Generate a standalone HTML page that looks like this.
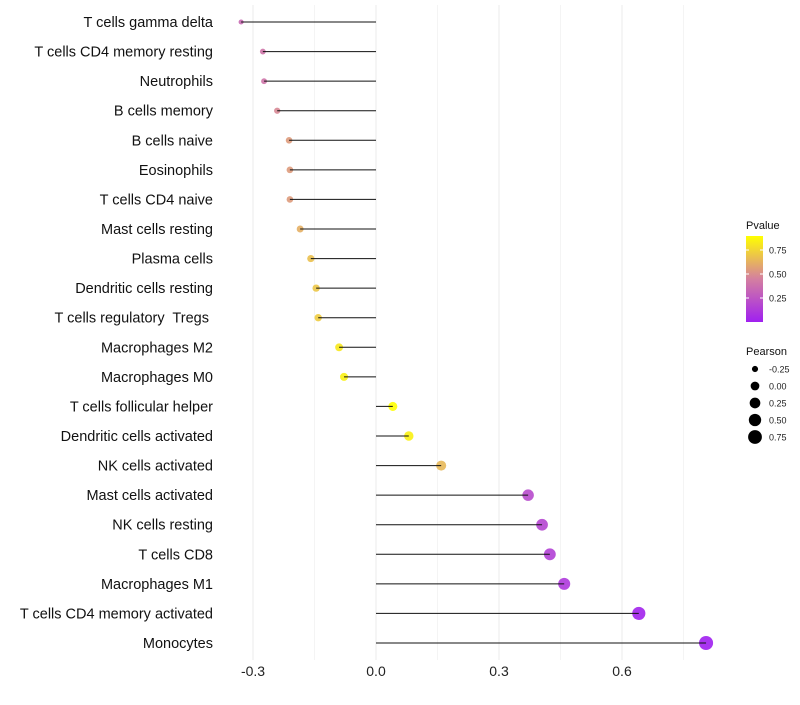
<!DOCTYPE html>
<html><head><meta charset="utf-8"><style>
body{margin:0;background:#fff}
svg text{font-family:"Liberation Sans",sans-serif;white-space:pre}
</style></head><body>
<svg id="c" width="800" height="700"></svg>
<script>
const categories=["T cells gamma delta","T cells CD4 memory resting","Neutrophils","B cells memory","B cells naive","Eosinophils","T cells CD4 naive","Mast cells resting","Plasma cells","Dendritic cells resting","T cells regulatory  Tregs ","Macrophages M2","Macrophages M0","T cells follicular helper","Dendritic cells activated","NK cells activated","Mast cells activated","NK cells resting","T cells CD8","Macrophages M1","T cells CD4 memory activated","Monocytes"];
const pearson=[-0.329,-0.276,-0.273,-0.241,-0.212,-0.210,-0.210,-0.185,-0.159,-0.146,-0.141,-0.090,-0.078,0.041,0.080,0.159,0.371,0.405,0.424,0.459,0.641,0.805];
const pvalue=[0.35,0.40,0.40,0.48,0.55,0.55,0.55,0.62,0.68,0.70,0.72,0.82,0.85,0.90,0.85,0.65,0.20,0.18,0.15,0.12,0.02,0.0];
const xTicks=[-0.3,0,0.3,0.6];
const xMinor=[-0.15,0.15,0.45,0.75];
const legP=[0.75,0.50,0.25];
const legS=[-0.25,0,0.25,0.5,0.75];
const NS="http://www.w3.org/2000/svg",svg=document.getElementById('c');
function el(t,a,p){const e=document.createElementNS(NS,t);for(const k in a)e.setAttribute(k,a[k]);(p||svg).appendChild(e);return e;}
const x=v=>376+v*410;
const y=i=>22+i*(621/21);
const rad=p=>Math.sqrt(Math.max(2,19+38*p));
function hex(h){return [1,3,5].map(i=>parseInt(h.substr(i,2),16));}
const stops=[[0,hex("#A020F0")],[0.45,hex("#D47FA0")],[0.9,hex("#FFFF00")]];
function col(p){p=Math.max(0,Math.min(0.9,p));for(let i=0;i<2;i++){const a=stops[i],b=stops[i+1];if(p<=b[0]){const t=(p-a[0])/(b[0]-a[0]);return "rgb("+a[1].map((c,j)=>Math.round(c+(b[1][j]-c)*t)).join(",")+")";}}}
xMinor.forEach(v=>{const l=el('line',{x1:x(v),x2:x(v),y1:5,y2:660,stroke:'#f4f4f4','stroke-width':1});

});
xTicks.forEach(v=>{const l=el('line',{x1:x(v),x2:x(v),y1:5,y2:660,stroke:'#ebebeb','stroke-width':1});


const t=el('text',{x:x(v),y:676,'text-anchor':'middle','font-size':14,fill:'#222'});t.textContent=v===0?"0.0":v.toFixed(1);

});
categories.forEach((c,i)=>{
const t=el('text',{x:213,y:y(i)+5,'text-anchor':'end','font-size':14.5,fill:'#111'});t.textContent=c;


const d=el('circle',{cx:x(pearson[i]),cy:y(i),r:rad(pearson[i]),fill:col(pvalue[i]),'fill-opacity':0.9});


const l=el('line',{x1:x(0),x2:x(pearson[i]),y1:y(i),y2:y(i),stroke:'#111','stroke-width':1});


});
const g=el('g',{});
const defs=el('defs',{});const lg=el('linearGradient',{id:'pg',x1:0,y1:1,x2:0,y2:0},defs);
[0,0.25,0.5,0.75,1].forEach(f=>el('stop',{offset:f,'stop-color':col(f*0.9)},lg));
let t=el('text',{x:746,y:229,'font-size':11,fill:'#111'},g);t.textContent="Pvalue";
el('rect',{x:746,y:236,width:17,height:86,fill:'url(#pg)'},g);
legP.forEach(v=>{const yy=322-v/0.25*24;el('line',{x1:746,x2:749,y1:yy,y2:yy,stroke:'#fff'},g);el('line',{x1:760,x2:763,y1:yy,y2:yy,stroke:'#fff'},g);
const tt=el('text',{x:769,y:yy+3.5,'font-size':9,fill:'#222'},g);tt.textContent=v.toFixed(2);});
t=el('text',{x:746,y:355,'font-size':11,fill:'#111'},g);t.textContent="Pearson";
legS.forEach((v,i)=>{const yy=369+i*17;el('circle',{cx:755,cy:yy,r:rad(v),fill:'#000'},g);
const tt=el('text',{x:769,y:yy+3.5,'font-size':9,fill:'#222'},g);tt.textContent=v.toFixed(2);});
</script>
</body></html>
